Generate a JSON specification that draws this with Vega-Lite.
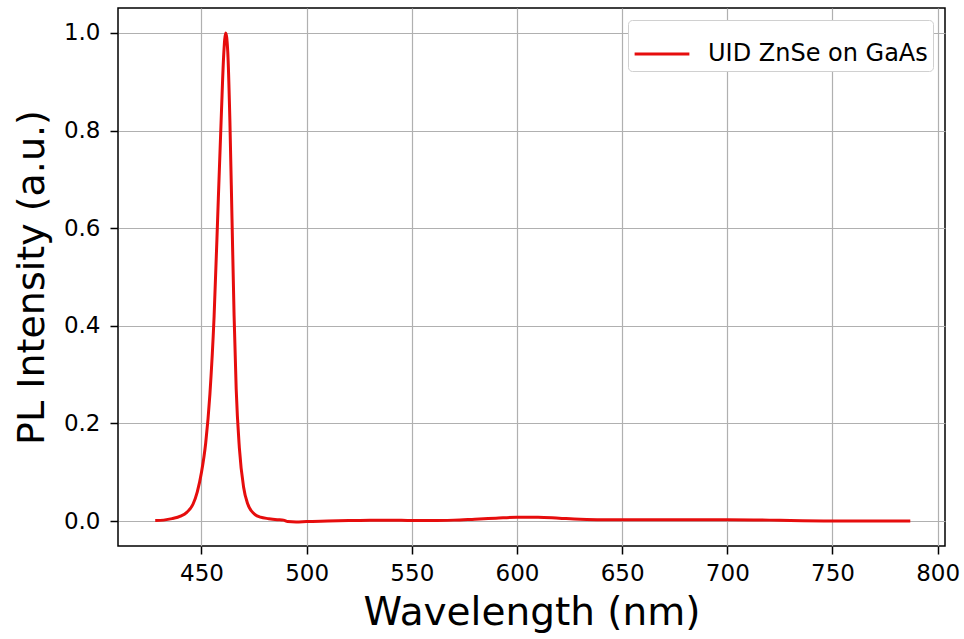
{
  "$schema": "https://vega.github.io/schema/vega-lite/v6.json",
  "autosize": "none",
  "padding": {"left": 118, "top": 8, "right": 19, "bottom": 93},
  "width": 827,
  "height": 538,
  "background": "white",
  "config": {
    "font": "DejaVu Sans",
    "view": {"stroke": "black", "strokeWidth": 1.5},
    "axis": {
      "domain": false,
      "gridColor": "#b0b0b0",
      "gridWidth": 1.2,
      "gridOpacity": 1,
      "tickColor": "black",
      "tickSize": 8,
      "tickWidth": 1.5,
      "labelColor": "black",
      "labelFontSize": 23,
      "labelFont": "DejaVu Sans",
      "titleFont": "DejaVu Sans",
      "titleFontWeight": "normal",
      "titleColor": "black"
    }
  },
  "data": {
    "values": [
      {"w": 428, "i": 0.001, "s": "UID ZnSe on GaAs"},
      {"w": 432, "i": 0.002, "s": "UID ZnSe on GaAs"},
      {"w": 436, "i": 0.005, "s": "UID ZnSe on GaAs"},
      {"w": 440, "i": 0.010, "s": "UID ZnSe on GaAs"},
      {"w": 443, "i": 0.018, "s": "UID ZnSe on GaAs"},
      {"w": 446, "i": 0.035, "s": "UID ZnSe on GaAs"},
      {"w": 448, "i": 0.06, "s": "UID ZnSe on GaAs"},
      {"w": 450, "i": 0.10, "s": "UID ZnSe on GaAs"},
      {"w": 452, "i": 0.16, "s": "UID ZnSe on GaAs"},
      {"w": 454, "i": 0.26, "s": "UID ZnSe on GaAs"},
      {"w": 456, "i": 0.42, "s": "UID ZnSe on GaAs"},
      {"w": 458, "i": 0.66, "s": "UID ZnSe on GaAs"},
      {"w": 459.5, "i": 0.84, "s": "UID ZnSe on GaAs"},
      {"w": 460.5, "i": 0.95, "s": "UID ZnSe on GaAs"},
      {"w": 461.5, "i": 1.0, "s": "UID ZnSe on GaAs"},
      {"w": 462.5, "i": 0.96, "s": "UID ZnSe on GaAs"},
      {"w": 463.5, "i": 0.82, "s": "UID ZnSe on GaAs"},
      {"w": 464.5, "i": 0.62, "s": "UID ZnSe on GaAs"},
      {"w": 465.5, "i": 0.42, "s": "UID ZnSe on GaAs"},
      {"w": 466.5, "i": 0.27, "s": "UID ZnSe on GaAs"},
      {"w": 468, "i": 0.15, "s": "UID ZnSe on GaAs"},
      {"w": 470, "i": 0.07, "s": "UID ZnSe on GaAs"},
      {"w": 472, "i": 0.035, "s": "UID ZnSe on GaAs"},
      {"w": 475, "i": 0.015, "s": "UID ZnSe on GaAs"},
      {"w": 478, "i": 0.008, "s": "UID ZnSe on GaAs"},
      {"w": 482, "i": 0.005, "s": "UID ZnSe on GaAs"},
      {"w": 486, "i": 0.003, "s": "UID ZnSe on GaAs"},
      {"w": 489, "i": 0.002, "s": "UID ZnSe on GaAs"},
      {"w": 491, "i": -0.001, "s": "UID ZnSe on GaAs"},
      {"w": 495, "i": -0.002, "s": "UID ZnSe on GaAs"},
      {"w": 500, "i": -0.001, "s": "UID ZnSe on GaAs"},
      {"w": 510, "i": 0.0, "s": "UID ZnSe on GaAs"},
      {"w": 520, "i": 0.001, "s": "UID ZnSe on GaAs"},
      {"w": 530, "i": 0.002, "s": "UID ZnSe on GaAs"},
      {"w": 540, "i": 0.002, "s": "UID ZnSe on GaAs"},
      {"w": 550, "i": 0.001, "s": "UID ZnSe on GaAs"},
      {"w": 560, "i": 0.001, "s": "UID ZnSe on GaAs"},
      {"w": 570, "i": 0.002, "s": "UID ZnSe on GaAs"},
      {"w": 580, "i": 0.004, "s": "UID ZnSe on GaAs"},
      {"w": 590, "i": 0.006, "s": "UID ZnSe on GaAs"},
      {"w": 600, "i": 0.008, "s": "UID ZnSe on GaAs"},
      {"w": 610, "i": 0.008, "s": "UID ZnSe on GaAs"},
      {"w": 620, "i": 0.006, "s": "UID ZnSe on GaAs"},
      {"w": 630, "i": 0.004, "s": "UID ZnSe on GaAs"},
      {"w": 640, "i": 0.003, "s": "UID ZnSe on GaAs"},
      {"w": 660, "i": 0.003, "s": "UID ZnSe on GaAs"},
      {"w": 680, "i": 0.003, "s": "UID ZnSe on GaAs"},
      {"w": 700, "i": 0.003, "s": "UID ZnSe on GaAs"},
      {"w": 720, "i": 0.002, "s": "UID ZnSe on GaAs"},
      {"w": 730, "i": 0.001, "s": "UID ZnSe on GaAs"},
      {"w": 750, "i": 0.0, "s": "UID ZnSe on GaAs"},
      {"w": 787, "i": 0.0, "s": "UID ZnSe on GaAs"}
    ]
  },
  "mark": {"type": "line", "strokeWidth": 3, "interpolate": "monotone"},
  "encoding": {
    "x": {
      "field": "w",
      "type": "quantitative",
      "scale": {"domain": [410.3, 803.5], "nice": false, "zero": false},
      "axis": {"title": "Wavelength (nm)", "titleFontSize": 39, "values": [450, 500, 550, 600, 650, 700, 750, 800], "titlePadding": 8, "labelPadding": 8}
    },
    "y": {
      "field": "i",
      "type": "quantitative",
      "scale": {"domain": [-0.051, 1.051], "nice": false, "zero": false},
      "axis": {"title": "PL Intensity (a.u.)", "titleFontSize": 38, "values": [0, 0.2, 0.4, 0.6, 0.8, 1.0], "format": ".1f", "titlePadding": 12, "labelPadding": 10}
    },
    "color": {
      "field": "s",
      "type": "nominal",
      "scale": {"domain": ["UID ZnSe on GaAs"], "range": ["#e60d0d"]},
      "legend": {
        "title": null,
        "orient": "top-right",
        "offset": 12,
        "symbolType": "stroke",
        "symbolSize": 3000,
        "symbolStrokeWidth": 3,
        "labelFontSize": 24,
        "labelLimit": 400,
        "labelOffset": 17,
        "labelFont": "DejaVu Sans",
        "labelColor": "black",
        "strokeColor": "#d0d0d0",
        "fillColor": "white",
        "cornerRadius": 4,
        "padding": 5
      }
    }
  }
}
